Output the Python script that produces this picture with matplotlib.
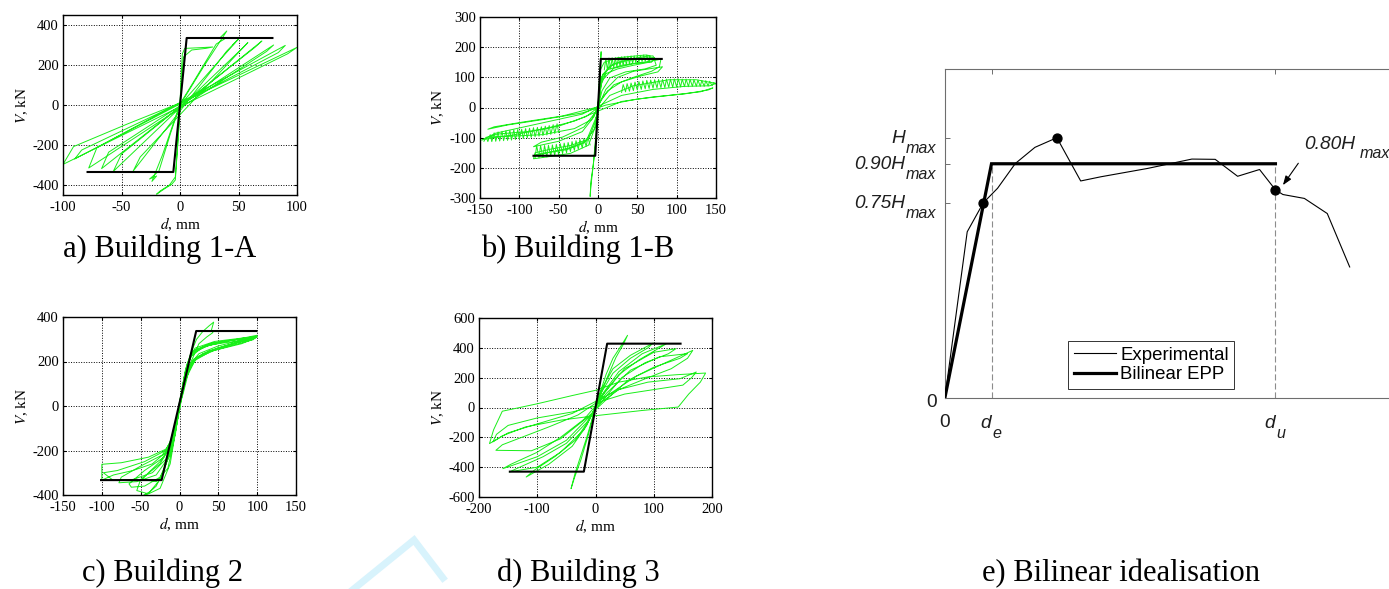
import numpy as np
import matplotlib
matplotlib.use("Agg")
import matplotlib.pyplot as plt
from matplotlib.lines import Line2D

plt.rcParams["axes.unicode_minus"] = False

# ---------------------------------------------------------------- data
# Building 1-A : cyclic shear V (kN) vs drift d (mm)
b1a_path = [
    (0, 0), (1, 150), (2, 255), (4, 283), (15, 286), (28, 290), (22, 283), (10, 275), (3, 240), (1, 100), (0, 0),
    (-2, -200), (-4, -375), (-7, -396), (-13, -418), (-20, -446), (-17, -430), (-9, -400), (-4, -360), (-1, -120), (0, 0),
    (20, 190), (40, 370), (34, 335), (38, 330), (31, 305), (12, 120), (0, 5),
    (-15, -250), (-24, -382), (-20, -355), (-26, -370), (-18, -330), (-8, -140), (0, 0),
    (50, 330), (45, 300), (47, 312), (40, 270),
    (-40, -330), (-34, -260),
    (58, 312), (53, 282),
    (-57, -332), (-50, -245),
    (70, 320), (64, 288),
    (-67, -318), (-61, -236),
    (80, 300), (74, 268),
    (-78, -315), (-71, -213),
    (90, 298), (84, 262),
    (-90, -270), (-84, -225),
    (100, 288), (92, 256),
    (-100, -297), (-91, -208),
    (-45, -95), (0, 10),
]
b1a_epp_d = [-79, -5.7, 5.7, 79]
b1a_epp_v = [-335, -335, 335, 335]

# Building 1-B
b1b_path = [
    (0, 0), (2, 100), (4, 185), (3, 125), (1, 50), (0, 0),
    (-3, -100), (-6, -190), (-9, -260), (-10, -295), (-9, -245), (-6, -190), (-3, -120), (0, -20),
    (3, 125), (8, 150), (25, 165), (45, 170), (60, 174), (66, 172), (65, 150), (45, 140), (25, 128), (10, 112), (3, 70), (0, 10),
    (-3, -60), (-12, -125), (-35, -152), (-60, -162), (-82, -170), (-80, -150), (-60, -138), (-35, -126), (-12, -105), (-3, -45), (0, 0),
    (5, 90), (20, 130), (45, 145), (70, 155), (80, 160), (78, 135), (68, 120), (45, 100), (20, 75), (5, 30), (0, 5),
    (-5, -30), (-20, -80), (-50, -112), (-82, -130), (-72, -115), (-45, -98), (-18, -65), (-3, -15),
    (15, 40), (45, 72), (90, 92), (125, 92), (150, 80), (142, 72), (110, 70), (70, 60), (30, 40), (5, 10),
    (-20, -22), (-60, -45), (-100, -68), (-130, -85), (-148, -108), (-138, -102), (-110, -92), (-70, -72), (-30, -45), (0, -12),
    (30, 20), (70, 35), (110, 45), (140, 58), (146, 65), (130, 52), (90, 40), (50, 28), (10, 8),
    (-20, -18), (-70, -40), (-115, -58), (-140, -72), (-132, -64), (-95, -48), (-45, -28), (0, 2),
    (10, 60), (25, 100), (45, 120), (70, 130), (82, 135), (76, 118), (55, 105), (30, 85), (12, 55), (2, 15),
    (-8, -40), (-30, -70), (-70, -90), (-110, -95), (-140, -98), (-128, -88), (-90, -80), (-50, -62), (-15, -30), (0, 0),
    (4, 100), (15, 138), (35, 155), (55, 162), (72, 166), (68, 150), (50, 148), (30, 140), (12, 125), (4, 90),
    (-4, -70), (-18, -118), (-40, -140), (-65, -150), (-80, -158), (-62, -148), (-38, -135), (-15, -112), (-2, -30),
    (6, 110), (20, 145), (40, 160), (62, 170), (70, 171), (74, 140), (60, 128), (35, 118), (15, 98), (5, 55), (0, 0),
]
b1b_shake_top = [
    (8, 125), (10, 162), (12, 124), (14, 164), (16, 128), (18, 165), (20, 132), (22, 166), (24, 134), (26, 167),
    (28, 137), (30, 168), (32, 139), (34, 169), (36, 142), (38, 170), (40, 144), (42, 171), (44, 146), (46, 171),
    (48, 149), (50, 172), (52, 150), (54, 173), (56, 152), (58, 174), (60, 153), (62, 174), (64, 155),
]
b1b_shake_right = [
    (30, 50), (32, 76), (35, 52), (37, 79), (40, 54), (42, 81), (45, 56), (47, 84), (50, 58), (52, 86),
    (55, 60), (57, 88), (60, 62), (62, 90), (65, 63), (67, 91), (70, 64), (72, 92), (75, 65), (77, 93),
    (80, 66), (82, 93), (85, 66), (87, 94), (90, 67), (92, 94), (95, 67), (97, 95), (100, 68), (102, 95),
    (105, 68), (107, 94), (110, 69), (112, 94), (115, 69), (117, 93), (120, 70), (122, 92), (125, 70), (127, 91),
    (130, 70), (132, 90), (135, 70), (137, 89), (140, 71), (142, 87), (145, 72), (147, 83), (149, 78),
]
b1b_shake_left = [
    (-145, -112), (-142, -98), (-140, -113), (-137, -90), (-135, -113), (-132, -84), (-130, -112), (-127, -81),
    (-125, -111), (-122, -79), (-120, -110), (-117, -77), (-115, -109), (-112, -76), (-110, -108), (-107, -74),
    (-105, -106), (-102, -73), (-100, -104), (-97, -72), (-95, -103), (-92, -70), (-90, -101), (-87, -69),
    (-85, -99), (-82, -67), (-80, -97), (-77, -66), (-75, -95), (-72, -64), (-70, -93), (-67, -62),
    (-65, -91), (-62, -60), (-60, -89), (-57, -57), (-55, -86), (-52, -54), (-50, -83),
]
b1b_shake_low = [
    (-80, -168), (-78, -126), (-75, -167), (-73, -126), (-70, -166), (-68, -126), (-65, -164), (-63, -125),
    (-60, -162), (-58, -124), (-55, -159), (-53, -122), (-50, -156), (-48, -120), (-45, -153), (-43, -118),
    (-40, -150), (-38, -116), (-35, -146), (-33, -113), (-30, -142), (-28, -110), (-25, -138), (-23, -106),
    (-20, -134), (-18, -103), (-15, -129), (-13, -99), (-10, -124),
]
b1b_epp_d = [-82, -3.5, 3.5, 81]
b1b_epp_v = [-160, -160, 161, 161]

# Building 2
b2_path = [
    (0, 0), (5, 100), (10, 190), (16, 250), (22, 300), (30, 335), (38, 360), (44, 377), (41, 340), (43, 330),
    (35, 310), (25, 280), (15, 200), (5, 60), (0, 0),
    (-5, -90), (-12, -200), (-20, -290), (-30, -360), (-42, -398), (-46, -400), (-38, -385), (-25, -330), (-14, -230), (-5, -80), (0, 0),
    (6, 130), (14, 220), (30, 265), (60, 290), (100, 318), (85, 300), (50, 270), (25, 235), (12, 180), (3, 40),
    (-5, -100), (-15, -190), (-40, -230), (-75, -255), (-100, -262), (-100, -333), (-85, -310), (-60, -290), (-35, -260), (-15, -200), (-4, -60),
    (5, 110), (14, 230), (35, 270), (65, 295), (100, 310), (80, 290), (50, 262), (25, 225), (10, 160), (0, 20),
    (-6, -120), (-18, -200), (-45, -250), (-80, -290), (-98, -300), (-85, -335), (-60, -330), (-35, -300), (-15, -230), (-3, -50),
    (7, 150), (16, 240), (40, 275), (70, 290), (98, 305), (80, 280), (45, 250), (22, 215), (8, 140), (0, 10),
    (-8, -140), (-22, -220), (-50, -270), (-75, -320), (-78, -345), (-55, -340), (-30, -310), (-12, -220), (-2, -40),
    (8, 160), (18, 250), (40, 280), (75, 300), (95, 298), (70, 275), (40, 245), (20, 205), (5, 100),
    (-5, -110), (-20, -230), (-45, -290), (-65, -350), (-62, -365), (-45, -360), (-25, -320), (-10, -200), (0, -20),
    (10, 190), (20, 260), (45, 290), (80, 305), (100, 312), (60, 270), (30, 235), (14, 190), (3, 60),
    (-10, -170), (-25, -260), (-50, -330), (-55, -380), (-40, -395), (-25, -370), (-12, -260), (-3, -70),
    (8, 170), (18, 245), (42, 283), (72, 298), (96, 302), (70, 282), (38, 248), (18, 210), (4, 80),
    (-8, -160), (-25, -250), (-40, -300), (-48, -330), (-30, -340), (-15, -280), (-5, -120), (0, 0),
]
b2_epp_d = [-101, -23, 21.5, 99]
b2_epp_v = [-333, -333, 337, 337]

# Building 3
b3_path = [
    (0, 0), (8, 100), (18, 220), (30, 330), (45, 420), (55, 484), (48, 425), (35, 335), (20, 200), (5, 50), (0, 0),
    (-6, -80), (-15, -200), (-25, -320), (-35, -440), (-42, -544), (-36, -470), (-25, -350), (-12, -180), (-3, -40),
    (10, 120), (30, 260), (60, 350), (99, 432), (90, 400), (60, 330), (30, 230), (10, 100), (0, 10),
    (-15, -120), (-40, -260), (-80, -380), (-119, -466), (-105, -420), (-70, -330), (-35, -220), (-10, -80),
    (10, 80), (40, 240), (80, 360), (122, 428), (110, 400), (75, 320), (40, 220), (12, 80), (0, 0),
    (-20, -150), (-60, -300), (-100, -400), (-148, -432), (-130, -400), (-90, -330), (-50, -240), (-15, -100),
    (15, 100), (50, 260), (100, 370), (138, 394), (125, 360), (85, 300), (45, 200), (15, 60),
    (-10, -60), (-50, -220), (-100, -330), (-159, -410), (-145, -380), (-100, -300), (-60, -200), (-20, -80),
    (20, 100), (60, 250), (110, 340), (158, 361), (145, 330), (100, 270), (55, 180), (15, 40),
    (-15, -70), (-60, -210), (-110, -290), (-171, -287), (-160, -250), (-120, -190), (-80, -130), (-30, -50),
    (20, 80), (70, 210), (120, 300), (167, 383), (158, 330), (130, 260), (90, 200), (40, 120), (0, 40),
    (-40, -40), (-100, -110), (-150, -170), (-182, -242), (-175, -150), (-160, -25), (-100, 25), (-40, 80), (0, 115),
    (40, 170), (90, 205), (140, 220), (189, 231), (180, 170), (160, 90), (142, 3), (80, -20), (0, -55), (-60, -85),
    (-120, -130), (-160, -190), (-176, -230), (-170, -180), (-150, -120), (-100, -70), (-40, -30), (0, 10),
    (40, 120), (90, 170), (145, 193), (173, 238), (165, 200), (150, 150), (100, 120), (50, 90), (0, 30),
]
b3_epp_d = [-147, -20, 20, 146]
b3_epp_v = [-430, -430, 428, 428]

# Bilinear idealisation (normalised: H / Hmax)
exp_d = [0, 4.8, 8.24, 11.3, 15.1, 19.3, 24.0, 29.1, 33.4, 43.4, 52.9, 57.9, 62.7, 67.4, 70.8, 72.4, 77.0, 81.9, 86.7]
exp_h = [0, 0.639, 0.75, 0.806, 0.901, 0.963, 1.0, 0.834, 0.850, 0.882, 0.918, 0.917, 0.852, 0.878, 0.80, 0.782, 0.767, 0.709, 0.504]
d_e, d_u = 10.0, 70.8
epp_d = [0, d_e, d_u]
epp_h = [0, 0.90, 0.90]
key_d = [8.24, 24.0, 70.8]
key_h = [0.75, 1.0, 0.80]

captions = ["a) Building 1-A", "b) Building 1-B", "c) Building 2", "d) Building 3", "e) Bilinear idealisation"]

# ---------------------------------------------------------------- figure
W, H = 1389, 589
fig = plt.figure(figsize=(W / 100, H / 100), dpi=100)
SERIF = "Liberation Serif"
SANS = "Liberation Sans"
GREEN = "#19ee19"
INK = "#1e1e1e"


def box(l, t, r, b):
    return [l / W, 1 - b / H, (r - l) / W, (b - t) / H]


def hysteresis(rect, paths, epp_d_, epp_v_, xlim, ylim, xticks, yticks):
    ax = fig.add_axes(box(*rect))
    for p in paths:
        arr = np.asarray(p, dtype=float)
        ax.plot(arr[:, 0], arr[:, 1], color=GREEN, lw=0.7, zorder=2)
    ax.plot(epp_d_, epp_v_, color="k", lw=1.5, zorder=3)
    ax.set_xlim(xlim)
    ax.set_ylim(ylim)
    ax.set_xticks(xticks)
    ax.set_yticks(yticks)
    ax.grid(True, color="k", linestyle=(0, (1.0, 1.6)), lw=0.7)
    for s in ax.spines.values():
        s.set_linewidth(1.0)
    ax.tick_params(direction="in", length=2.5, width=0.8, labelsize=10.5, pad=3,
                   top=True, right=True)
    ax.tick_params(axis="x", pad=4.6)
    for lab in ax.get_xticklabels() + ax.get_yticklabels():
        lab.set_fontfamily(SERIF)
    ax.set_xlabel("$d$, mm", fontsize=11, family=SERIF, math_fontfamily="stix", labelpad=1)
    ax.set_ylabel("$V$, kN", fontsize=11, family=SERIF, math_fontfamily="stix", labelpad=2)
    return ax


hysteresis((63, 15, 297, 195), [b1a_path], b1a_epp_d, b1a_epp_v,
           (-100, 100), (-450, 450), range(-100, 101, 50), range(-400, 401, 200))
hysteresis((480, 17, 716, 198),
           [b1b_path, b1b_shake_top, b1b_shake_right, b1b_shake_left, b1b_shake_low],
           b1b_epp_d, b1b_epp_v,
           (-150, 150), (-300, 300), range(-150, 151, 50), range(-300, 301, 100))
hysteresis((63, 317, 296, 495), [b2_path], b2_epp_d, b2_epp_v,
           (-150, 150), (-400, 400), range(-150, 151, 50), range(-400, 401, 200))
hysteresis((479, 318, 712, 497), [b3_path], b3_epp_d, b3_epp_v,
           (-200, 200), (-600, 600), range(-200, 201, 100), range(-600, 601, 200))

# ---------------------------------------------------------------- bilinear panel
PX = 4.67            # pixels per unit of displacement
left, top, bottom = 944.8, 69.3, 398.3
axe = fig.add_axes(box(left, top, left + 97 * PX, bottom))
axe.set_xlim(0, 97)
axe.set_ylim(0, 1.2625)
axe.plot(exp_d, exp_h, color="k", lw=0.8, zorder=3)
axe.plot(epp_d, epp_h, color="k", lw=2.3, zorder=3, solid_joinstyle="miter")
for xv in (d_e, d_u):
    axe.plot([xv, xv], [0, 0.90], color="#8c8c8c", lw=0.8, dashes=(5.5, 2.6), zorder=2)
axe.plot(key_d, key_h, "o", color="k", ms=6.4, zorder=4)
for s in axe.spines.values():
    s.set_color("#6e6e6e")
    s.set_linewidth(0.8)
axe.set_xticks([0, d_e, d_u])
axe.set_yticks([0, 0.75, 0.90, 1.0])
axe.tick_params(direction="in", length=3.5, width=0.7, color="#6e6e6e",
                top=True, right=True, labelleft=False, labelbottom=False)

FS = 13.8
SUB = 11.6
PT = 0.72  # points per pixel at 100 dpi


def ylab(value, main):
    if main == "0":
        axe.annotate("0", xy=(0, value), xycoords=("axes fraction", "data"),
                     xytext=(-7.8 * PT, -8.4 * PT), textcoords="offset points",
                     ha="right", va="baseline", fontsize=FS, family=SANS, color=INK)
        return
    axe.annotate(main, xy=(0, value), xycoords=("axes fraction", "data"),
                 xytext=(-39.5 * PT, -4.8 * PT), textcoords="offset points",
                 ha="right", va="baseline", fontsize=FS, family=SANS, style="italic", color=INK)
    axe.annotate("max", xy=(0, value), xycoords=("axes fraction", "data"),
                 xytext=(-8.6 * PT, -15.0 * PT), textcoords="offset points",
                 ha="right", va="baseline", fontsize=SUB, family=SANS, style="italic", color=INK)


ylab(0, "0")
ylab(0.75, "0.75H")
ylab(0.90, "0.90H")
ylab(1.0, "H")

axe.annotate("0", xy=(0, 0), xycoords=("data", "axes fraction"),
             xytext=(0, -28.4 * PT), textcoords="offset points",
             ha="center", va="baseline", fontsize=FS, family=SANS, color=INK)
for xv, sub in ((d_e, "e"), (d_u, "u")):
    axe.annotate("d", xy=(xv, 0), xycoords=("data", "axes fraction"),
                 xytext=(-0.5 * PT, -29.4 * PT), textcoords="offset points",
                 ha="right", va="baseline", fontsize=FS, family=SANS, style="italic", color=INK)
    axe.annotate(sub, xy=(xv, 0), xycoords=("data", "axes fraction"),
                 xytext=(1.0 * PT, -40.0 * PT), textcoords="offset points",
                 ha="left", va="baseline", fontsize=SUB, family=SANS, style="italic", color=INK)

# label of the 0.80 Hmax point
axe.text(77.0, 0.955, "0.80H", fontsize=FS, family=SANS, style="italic", color=INK,
         ha="left", va="baseline", clip_on=False)
axe.text(88.9, 0.921, "max", fontsize=SUB, family=SANS, style="italic", color=INK,
         ha="left", va="baseline", clip_on=False)
axe.annotate("", xy=(72.4, 0.818), xytext=(75.7, 0.902),
             arrowprops=dict(arrowstyle="-|>,head_length=0.55,head_width=0.2",
                             color="k", lw=0.8, shrinkA=0, shrinkB=0))

handles = [Line2D([], [], color="k", lw=0.8), Line2D([], [], color="k", lw=2.3)]
leg = axe.legend(handles, ["Experimental", "Bilinear EPP"], loc="lower left",
                 bbox_to_anchor=(0.2722, 0.0283), borderaxespad=0,
                 prop={"family": SANS, "size": 13.4}, handlelength=2.25,
                 handletextpad=0.25, borderpad=0.3, labelspacing=0.15,
                 fancybox=False, framealpha=1, edgecolor="#333333")
leg.get_frame().set_linewidth(0.7)

# ---------------------------------------------------------------- captions
cap_pos = [(160, 257), (578, 257), (162, 581), (578, 581), (1121, 581)]
for text, (cx, cy) in zip(captions, cap_pos):
    fig.text(cx / W, 1 - cy / H, text, ha="center", va="baseline",
             fontsize=22, family=SERIF, color="k")

# faint review watermark fragment
fig.add_artist(Line2D([350 / W, 414 / W, 443 / W], [1 - 592 / H, 1 - 540 / H, 1 - 578 / H],
                      transform=fig.transFigure, color="#d8f3fc", lw=5,
                      solid_joinstyle="miter", zorder=0))

fig.savefig("out.png", dpi=100)
